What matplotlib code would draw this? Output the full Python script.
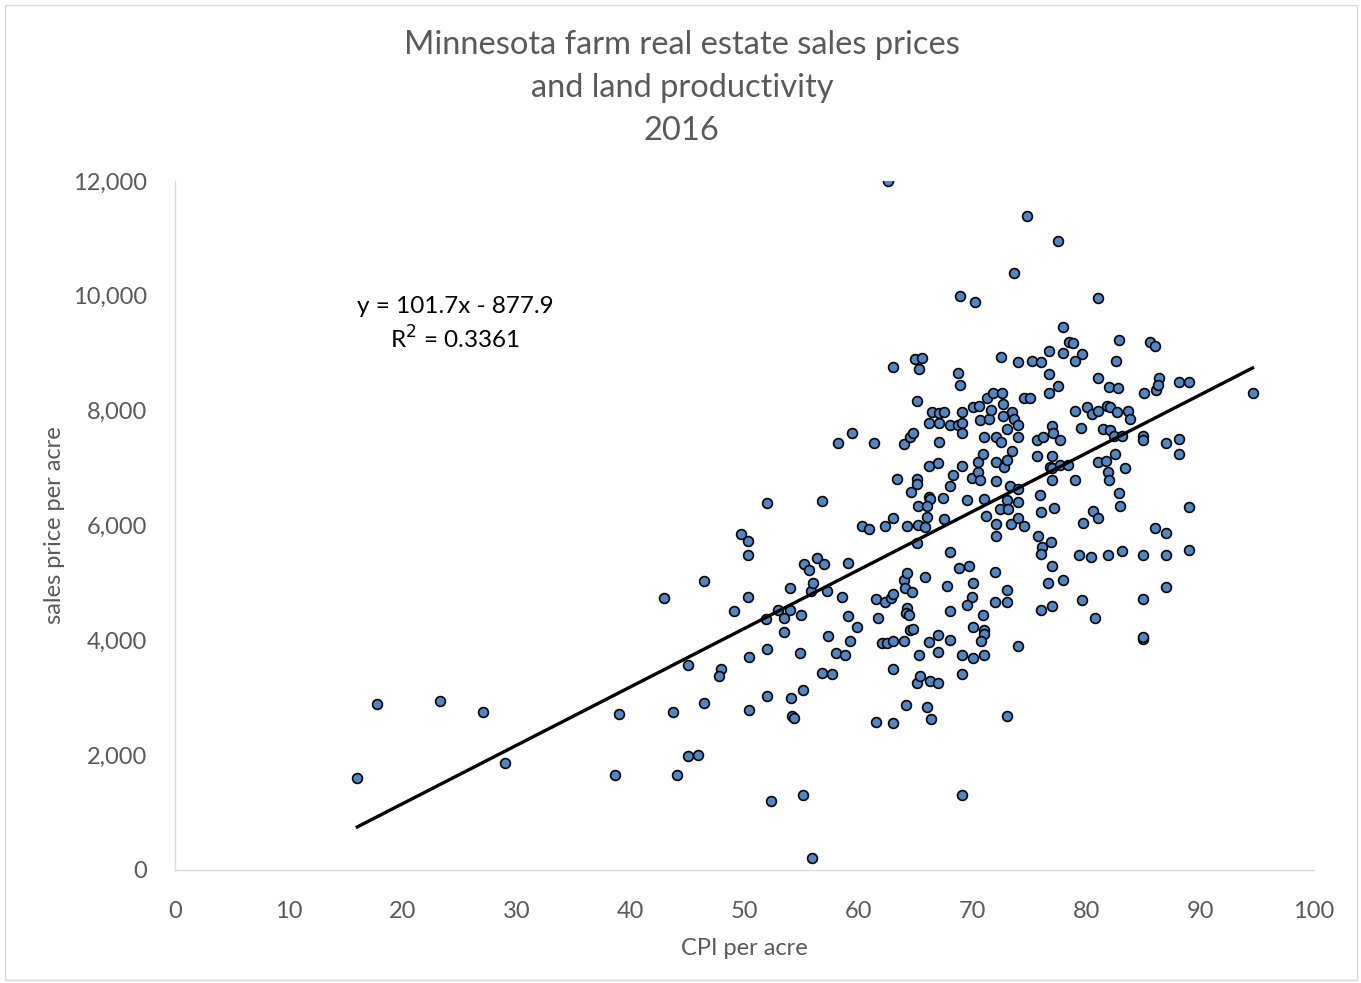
import matplotlib
matplotlib.use("Agg")
import matplotlib.pyplot as plt
from matplotlib.patches import Rectangle
from matplotlib.ticker import FuncFormatter
import numpy as np

plt.rcParams["font.family"] = ["Lato", "DejaVu Sans"]
GREY, INK, DOT = "#595959", "#000000", "#4F86C6"

# CPI per acre (x) and sales price per acre (y)
cpi = [
    16.0, 17.7, 23.3, 27.0, 29.0, 38.6, 39.0, 42.9, 43.7, 44.1, 45.0, 45.0, 45.9, 46.4, 46.4,
    47.9, 47.8, 49.1, 49.7, 50.3, 50.3, 50.3, 50.4, 50.4, 52.0, 51.9, 52.0, 52.0, 52.3, 52.9,
    54.0, 53.5, 53.5, 54.0, 54.1, 54.2, 54.3, 55.0, 54.9, 55.1, 55.1, 55.2, 55.7, 55.8, 55.9,
    56.0, 56.4, 57.0, 56.8, 57.2, 57.3, 56.8, 57.7, 58.0, 58.8, 58.2, 59.4, 58.6, 59.1, 59.1,
    59.9, 59.3, 60.3, 60.9, 61.4, 61.5, 61.7, 61.5, 62.1, 62.3, 62.3, 62.5, 62.6, 63.0, 63.0,
    62.9, 63.0, 63.0, 63.0, 63.0, 63.4, 64.0, 64.5, 64.8, 64.3, 64.0, 64.3, 64.1, 64.7, 64.3,
    64.2, 64.4, 64.0, 64.5, 64.2, 65.0, 65.6, 65.3, 65.1, 64.6, 65.1, 65.1, 65.2, 65.2, 65.1,
    65.8, 65.8, 64.8, 65.3, 65.1, 65.4, 66.0, 66.4, 66.3, 67.0, 67.0, 66.2, 67.0, 68.0, 66.2,
    67.0, 66.2, 66.3, 66.0, 66.0, 67.4, 67.5, 66.2, 67.1, 66.5, 67.1, 67.5, 67.1, 68.0, 68.0,
    68.3, 68.0, 67.8, 68.0, 68.7, 69.1, 69.1, 69.1, 68.9, 68.7, 68.9, 70.2, 69.1, 69.5, 68.8,
    69.7, 70.0, 70.1, 70.6, 70.5, 70.7, 70.7, 70.5, 70.9, 71.0, 71.0, 71.2, 71.5, 71.3, 71.8,
    72.6, 71.6, 72.7, 72.7, 73.5, 72.1, 72.5, 72.1, 72.8, 73.0, 73.5, 73.0, 73.7, 74.0, 74.0,
    72.1, 72.4, 72.1, 72.1, 73.0, 73.1, 73.3, 73.4, 74.0, 74.0, 74.0, 74.5, 72.0, 73.0, 70.1,
    70.0, 69.5, 72.0, 73.0, 70.9, 70.1, 71.0, 71.0, 70.8, 69.1, 70.1, 71.0, 69.1, 73.0, 69.1,
    74.0, 74.0, 75.2, 76.0, 72.5, 76.7, 76.7, 76.7, 74.8, 73.7, 74.5, 75.1, 75.7, 76.2, 75.7,
    76.8, 75.9, 76.0, 75.8, 76.1, 76.0, 76.6, 76.0, 77.0, 77.5, 81.0, 78.0, 82.9, 85.6, 86.0,
    78.5, 78.8, 78.0, 79.6, 79.0, 82.6, 81.0, 86.4, 88.1, 89.0, 77.5, 82.0, 82.8, 85.1, 86.1,
    86.3, 94.6, 79.0, 80.1, 80.5, 81.0, 81.8, 82.1, 82.7, 83.7, 83.8, 77.0, 77.1, 77.7, 79.5,
    81.5, 82.1, 82.4, 83.1, 85.0, 85.0, 87.0, 88.1, 88.1, 77.0, 77.0, 77.7, 78.4, 81.0, 81.7,
    82.5, 81.9, 83.4, 77.0, 79.0, 82.0, 82.9, 77.2, 83.0, 89.0, 80.6, 81.0, 79.7, 86.0, 87.0,
    76.9, 79.4, 80.4, 81.9, 83.1, 85.0, 87.0, 89.0, 77.0, 78.0, 87.0, 79.6, 85.0, 80.8, 85.0,
    85.0,
]
price = [
    1600, 2890, 2940, 2750, 1860, 1650, 2720, 4740, 2750, 1650, 3570, 1985, 2003, 2908, 5033,
    3500, 3379, 4510, 5851, 5730, 5486, 4750, 3709, 2786, 6391, 4371, 3849, 3030, 1202, 4528,
    4528, 4389, 4145, 4911, 2995, 2680, 2650, 4441, 3779, 3135, 1306, 5329, 5225, 4859, 209,
    4998, 5433, 5329, 6426, 4859, 4075, 3431, 3413, 3779, 3744, 7436, 7610, 4754, 5346, 4423,
    4232, 3988, 5991, 5939, 7436, 4719, 4389, 2577, 3953, 5991, 4667, 3953, 12000, 8760, 6130,
    4737, 4807, 3988, 3500, 2560, 6809, 7419, 7541, 7610, 5991, 5050, 5172, 4911, 4841, 4563,
    4476, 4441, 3988, 4180, 2873, 8899, 8916, 8725, 8168, 6583, 6809, 6722, 6339, 6008, 5695,
    5973, 5103, 4197, 3744, 3257, 3379, 2839, 2630, 3291, 3257, 3796, 3971, 4093, 4005, 7036,
    7088, 6496, 6461, 6339, 6147, 6478, 6113, 7785, 7785, 7976, 7959, 7976, 7454, 7750, 6687,
    6879, 5538, 4946, 4510, 7750, 7785, 7610, 7976, 8446, 8655, 9996, 9892, 7036, 6444, 5259,
    5294, 6827, 8063, 8081, 6931, 6792, 7837, 7105, 7245, 7541, 6461, 6165, 7854, 8220, 8307,
    8307, 8011, 8115, 7906, 7976, 7541, 7454, 7105, 7018, 7140, 7297, 7680, 7854, 7750, 7541,
    6774, 6287, 6026, 5817, 6444, 6287, 6687, 6026, 6635, 6409, 6130, 5991, 5190, 4876, 4998,
    4754, 4615, 4667, 4667, 4441, 4232, 4180, 4110, 3988, 3744, 3692, 3744, 3413, 2682, 1306,
    3901, 8847, 8864, 8847, 8934, 9038, 8638, 8307, 11389, 10397, 8220, 8220, 7489, 7541, 7210,
    7018, 6531, 6234, 5817, 5625, 5503, 4998, 4528, 4598, 10954, 9961, 9456, 9230, 9195, 9125,
    9195, 9178, 9003, 8986, 8864, 8864, 8568, 8568, 8498, 8498, 8429, 8411, 8394, 8307, 8359,
    8446, 8307, 7993, 8063, 7941, 7993, 8081, 8063, 7976, 7993, 7854, 7732, 7610, 7488, 7697,
    7680, 7663, 7558, 7558, 7558, 7488, 7436, 7506, 7245, 7210, 7001, 7053, 7053, 7105, 7123,
    7245, 6931, 7001, 6792, 6792, 6792, 6565, 6304, 6339, 6322, 6252, 6130, 6043, 5956, 5869,
    5712, 5486, 5451, 5486, 5555, 5486, 5486, 5573, 5294, 5050, 4928, 4702, 4719, 4389, 4023,
    4050,
]

# linear trendline as printed on the chart
slope, intercept, r2 = 101.7, -877.9, 0.3361

fig = plt.figure(figsize=(13.61, 9.83), dpi=100)
ax = fig.add_axes([0.1286, 0.115, 0.8369, 0.7009])

ax.scatter(cpi, price, s=50, color=DOT, edgecolor=INK, linewidth=1.2, zorder=3)

xs = np.array([min(cpi), max(cpi)])
ax.plot(xs, slope * xs + intercept, color=INK, lw=2.4, zorder=4)

ax.set_xlim(0, 100)
ax.set_ylim(0, 12000)
ax.set_xticks(np.arange(0, 101, 10))
ax.set_yticks(np.arange(0, 12001, 2000))
ax.yaxis.set_major_formatter(FuncFormatter(lambda v, _: f"{v:,.0f}"))
ax.tick_params(length=0, labelsize=17, colors=GREY)
ax.tick_params(axis="x", pad=22)
ax.tick_params(axis="y", pad=20)
for side in ("top", "right"):
    ax.spines[side].set_visible(False)
for side in ("left", "bottom"):
    ax.spines[side].set_color("#D9D9D9")
    ax.spines[side].set_linewidth(1.0)

ax.set_xlabel("CPI per acre", fontsize=17, color=GREY, labelpad=12)
ax.set_ylabel("sales price per acre", fontsize=17, color=GREY, labelpad=6)

ax.text(0.246, 0.818, f"y = {slope}x - {abs(intercept)}", transform=ax.transAxes,
        ha="center", va="center", fontsize=17.5, color=INK)
ax.text(0.246, 0.770, f"R$^2$ = {r2}", transform=ax.transAxes,
        ha="center", va="center", fontsize=17.5, color=INK)

fig.text(0.501, 0.954, "Minnesota farm real estate sales prices", ha="center", va="center",
         fontsize=23.5, color=GREY)
fig.text(0.501, 0.910, "and land productivity", ha="center", va="center",
         fontsize=23.5, color=GREY)
fig.text(0.501, 0.867, "2016", ha="center", va="center", fontsize=23.5, color=GREY)

fig.patches.append(Rectangle((0.004, 0.003), 0.993, 0.992, transform=fig.transFigure,
                             fill=False, edgecolor="#D9D9D9", lw=1.0))

fig.savefig("out.png", dpi=100, facecolor="white")
